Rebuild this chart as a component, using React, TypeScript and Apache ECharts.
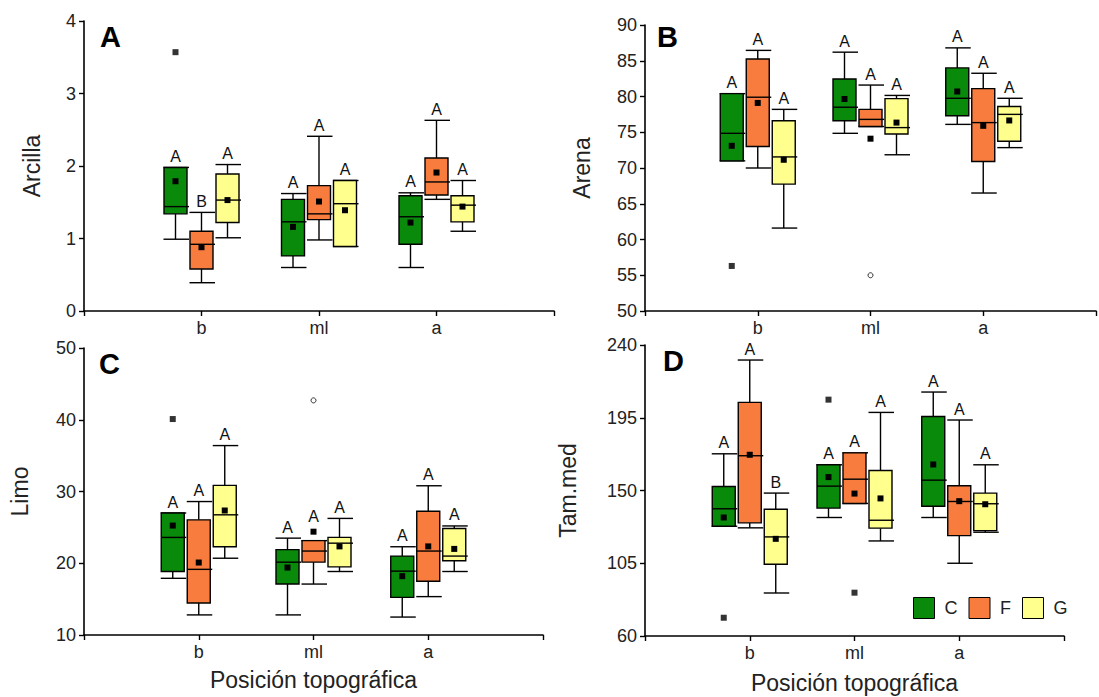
import React, { useEffect, useRef } from "react";
import * as echarts from "echarts";

const CATS = ["", "b", "ml", "a", ""];
const GROUPS = ["C", "F", "G"];
const COLORS = ["#0a8a0a", "#f77c3e", "#ffff8e"];
const OFFSETS = [-26, 0, 26];
const FONT = "Liberation Sans, Arial, Helvetica, sans-serif";

// each row: [low whisker, Q1, median, Q3, high whisker, mean] for b, ml, a
const arcillaC = [[0.99, 1.34, 1.44, 1.98, 1.98, 1.79], [0.6, 0.76, 1.23, 1.54, 1.62, 1.16], [0.6, 0.92, 1.3, 1.59, 1.63, 1.22]];
const arcillaF = [[0.39, 0.58, 0.92, 1.1, 1.36, 0.88], [0.98, 1.26, 1.34, 1.73, 2.41, 1.51], [1.54, 1.6, 1.78, 2.11, 2.63, 1.91]];
const arcillaG = [[1.01, 1.22, 1.53, 1.89, 2.02, 1.53], [0.89, 0.89, 1.48, 1.8, 1.8, 1.39], [1.1, 1.23, 1.46, 1.59, 1.8, 1.44]];
const arcillaLetters = [["A", "A", "A"], ["B", "A", "A"], ["A", "A", "A"]];
// [group, category, value, open(1)/filled(0)]
const arcillaOutliers = [[0, 1, 3.57, 0]];

const arenaC = [[71.0, 71.0, 74.85, 80.4, 80.4, 73.1], [74.85, 76.6, 78.5, 82.45, 86.2, 79.65], [76.1, 77.3, 79.75, 84.0, 86.8, 80.7]];
const arenaF = [[70.0, 73.0, 79.9, 85.25, 86.45, 79.1], [75.8, 75.8, 76.8, 78.2, 81.6, 74.1], [66.5, 70.9, 76.35, 81.1, 83.25, 75.9]];
const arenaG = [[61.6, 67.75, 71.55, 76.6, 78.2, 71.15], [71.85, 74.75, 75.65, 79.7, 80.15, 76.35], [72.85, 73.75, 77.5, 78.6, 79.75, 76.65]];
const arenaLetters = [["A", "A", "A"], ["A", "A", "A"], ["A", "A", "A"]];
const arenaOutliers = [[0, 1, 56.3, 0], [1, 2, 55.0, 1]];

const limoC = [[17.9, 18.85, 23.6, 27.0, 27.0, 25.25], [12.8, 17.1, 20.15, 21.9, 23.5, 19.4], [12.5, 15.25, 18.9, 21.0, 22.3, 18.2]];
const limoF = [[12.8, 14.45, 19.15, 26.05, 28.6, 20.1], [17.1, 20.15, 21.7, 23.15, 23.15, 24.4], [15.35, 17.5, 21.7, 27.25, 30.8, 22.35]];
const limoG = [[20.7, 22.3, 26.75, 30.85, 36.4, 27.35], [18.85, 19.5, 22.8, 23.6, 26.25, 22.35], [18.85, 20.35, 21.0, 24.85, 25.2, 22.0]];
const limoLetters = [["A", "A", "A"], ["A", "A", "A"], ["A", "A", "A"]];
const limoOutliers = [[0, 1, 40.1, 0], [1, 2, 42.7, 1]];

const tamC = [[127.9, 127.9, 138.7, 152.5, 172.7, 133.3], [133.3, 139.1, 152.7, 165.9, 165.9, 158.3], [133.3, 140.3, 156.4, 195.8, 210.9, 166.1]];
const tamF = [[126.9, 130.0, 171.5, 204.5, 230.7, 172.1], [142.0, 142.0, 157.0, 173.3, 173.3, 148.1], [105.0, 122.1, 143.2, 152.9, 193.6, 143.4]];
const tamG = [[86.6, 104.4, 121.3, 138.4, 148.4, 120.1], [118.8, 126.7, 131.6, 162.4, 198.3, 145.1], [124.2, 125.2, 141.8, 148.4, 165.9, 141.5]];
const tamLetters = [["A", "A", "A"], ["A", "A", "A"], ["B", "A", "A"]];
const tamOutliers = [[0, 1, 71.3, 0], [0, 2, 206.2, 0], [1, 2, 86.8, 0]];

const PANELS = [
  { label: "A", yName: "Arcilla", groups: [arcillaC, arcillaF, arcillaG], letters: arcillaLetters, outliers: arcillaOutliers, min: 0, max: 4, interval: 1 },
  { label: "B", yName: "Arena", groups: [arenaC, arenaF, arenaG], letters: arenaLetters, outliers: arenaOutliers, min: 50, max: 90, interval: 5 },
  { label: "C", yName: "Limo", groups: [limoC, limoF, limoG], letters: limoLetters, outliers: limoOutliers, min: 10, max: 50, interval: 10 },
  { label: "D", yName: "Tam.med", groups: [tamC, tamF, tamG], letters: tamLetters, outliers: tamOutliers, min: 60, max: 240, interval: 45 },
];

const GRIDS = [
  { left: 84, top: 21, width: 470, height: 290 },
  { left: 645, top: 25, width: 458, height: 286 },
  { left: 84, top: 348, width: 459, height: 287 },
  { left: 645, top: 345, width: 419, height: 291 },
];
const TITLE_POS = [[100, 22], [657, 22], [99, 349], [663, 346]];
const NAME_GAPS = [41, 52, 53, 66];

function makeRender(offset: number, color: string, letters: string[]) {
  return function (params: any, api: any) {
    const xv = api.value(0);
    const lo = api.coord([xv, api.value(1)]);
    const q1 = api.coord([xv, api.value(2)]);
    const md = api.coord([xv, api.value(3)]);
    const q3 = api.coord([xv, api.value(4)]);
    const hi = api.coord([xv, api.value(5)]);
    const mn = api.coord([xv, api.value(6)]);
    const cx = lo[0] + offset;
    const bw = 23;
    const l = cx - bw / 2;
    const r = cx + bw / 2;
    const ls = { stroke: "#000", lineWidth: 1.4 };
    const letterY = Math.min(hi[1], mn[1] - 4) - 3;
    return {
      type: "group",
      children: [
        { type: "line", shape: { x1: cx, y1: q3[1], x2: cx, y2: hi[1] }, style: ls },
        { type: "line", shape: { x1: cx, y1: q1[1], x2: cx, y2: lo[1] }, style: ls },
        { type: "line", shape: { x1: l - 0.5, y1: hi[1], x2: r + 2, y2: hi[1] }, style: ls },
        { type: "line", shape: { x1: l - 0.5, y1: lo[1], x2: r + 2, y2: lo[1] }, style: ls },
        { type: "rect", shape: { x: l, y: q3[1], width: bw, height: q1[1] - q3[1] }, style: { fill: color, stroke: "#000", lineWidth: 1.4 } },
        { type: "line", shape: { x1: l, y1: md[1], x2: r + 2, y2: md[1] }, style: ls },
        { type: "rect", shape: { x: cx - 3, y: mn[1] - 3, width: 6, height: 6 }, style: { fill: "#000" } },
        {
          type: "text",
          x: cx,
          y: letterY,
          style: { text: letters[params.dataIndex], fill: "#111", fontSize: 16, fontFamily: FONT, align: "center", verticalAlign: "bottom" },
        },
      ],
    };
  };
}

export default function App() {
  const ref = useRef<HTMLDivElement>(null);
  useEffect(() => {
    if (!ref.current) return;
    const chart = echarts.init(ref.current, undefined, { renderer: "svg" });
    const series: any[] = [];
    PANELS.forEach((p, pi) => {
      p.groups.forEach((rows, gi) => {
        series.push({
          type: "custom",
          name: GROUPS[gi],
          xAxisIndex: pi,
          yAxisIndex: pi,
          itemStyle: { color: COLORS[gi] },
          renderItem: makeRender(OFFSETS[gi], COLORS[gi], p.letters[gi]),
          encode: { x: 0, y: [1, 2, 3, 4, 5, 6] },
          data: rows.map((row, ci) => [ci + 1, ...row]),
          z: 3,
        });
      });
      GROUPS.forEach((g, gi) => {
        [0, 1].forEach((open) => {
          const pts = p.outliers.filter((o) => o[0] === gi && o[3] === open).map((o) => [o[1], o[2]]);
          if (!pts.length) return;
          series.push({
            type: "scatter",
            xAxisIndex: pi,
            yAxisIndex: pi,
            symbol: open ? "circle" : "rect",
            symbolSize: open ? 5 : 6,
            symbolOffset: [OFFSETS[gi], 0],
            itemStyle: open ? { color: "#fff", borderColor: "#000", borderWidth: 1 } : { color: "#000" },
            data: pts,
            z: 4,
          });
        });
      });
    });

    const axisLine = { show: true, lineStyle: { color: "#000", width: 1.6 } };
    const axisTick = { show: true, length: 5, lineStyle: { color: "#000", width: 1.4 } };

    chart.setOption({
      animation: false,
      textStyle: { fontFamily: FONT },
      title: PANELS.map((p, i) => ({
        text: p.label,
        left: TITLE_POS[i][0],
        top: TITLE_POS[i][1],
        padding: 0,
        textStyle: { fontSize: 29, fontWeight: "bold", color: "#000", fontFamily: FONT },
      })),
      legend: {
        left: 913,
        top: 597,
        padding: 0,
        itemWidth: 21,
        itemHeight: 21,
        itemGap: 11,
        formatter: (n: string) => " " + n,
        textStyle: { fontSize: 18, color: "#222", fontFamily: FONT },
        data: GROUPS.map((g, i) => ({ name: g, icon: "rect", itemStyle: { color: COLORS[i], borderColor: "#000", borderWidth: 1 } })),
      },
      grid: GRIDS.map((g) => ({ ...g, containLabel: false })),
      xAxis: PANELS.map((p, i) => ({
        type: "value",
        gridIndex: i,
        min: 0,
        max: 4,
        interval: 1,
        axisLine,
        axisTick,
        splitLine: { show: false },
        axisLabel: { formatter: (v: number) => CATS[v] || "", fontSize: 18, color: "#222", margin: 8, showMinLabel: true, showMaxLabel: true },
        name: i >= 2 ? "Posición topográfica" : "",
        nameLocation: "middle",
        nameGap: i === 2 ? 33 : 35,
        nameTextStyle: { fontSize: 23, color: "#222", fontFamily: FONT },
      })),
      yAxis: PANELS.map((p, i) => ({
        type: "value",
        gridIndex: i,
        min: p.min,
        max: p.max,
        interval: p.interval,
        axisLine,
        axisTick,
        splitLine: { show: false },
        axisLabel: { fontSize: 18, color: "#222", margin: 8 },
        name: p.yName,
        nameLocation: "middle",
        nameGap: NAME_GAPS[i],
        nameRotate: 90,
        nameTextStyle: { fontSize: 23, color: "#222", fontFamily: FONT },
      })),
      series,
    });
    return () => chart.dispose();
  }, []);
  return <div ref={ref} style={{ position: "absolute", left: 0, top: 0, width: 1099, height: 697, background: "#fff" }} />;
}
